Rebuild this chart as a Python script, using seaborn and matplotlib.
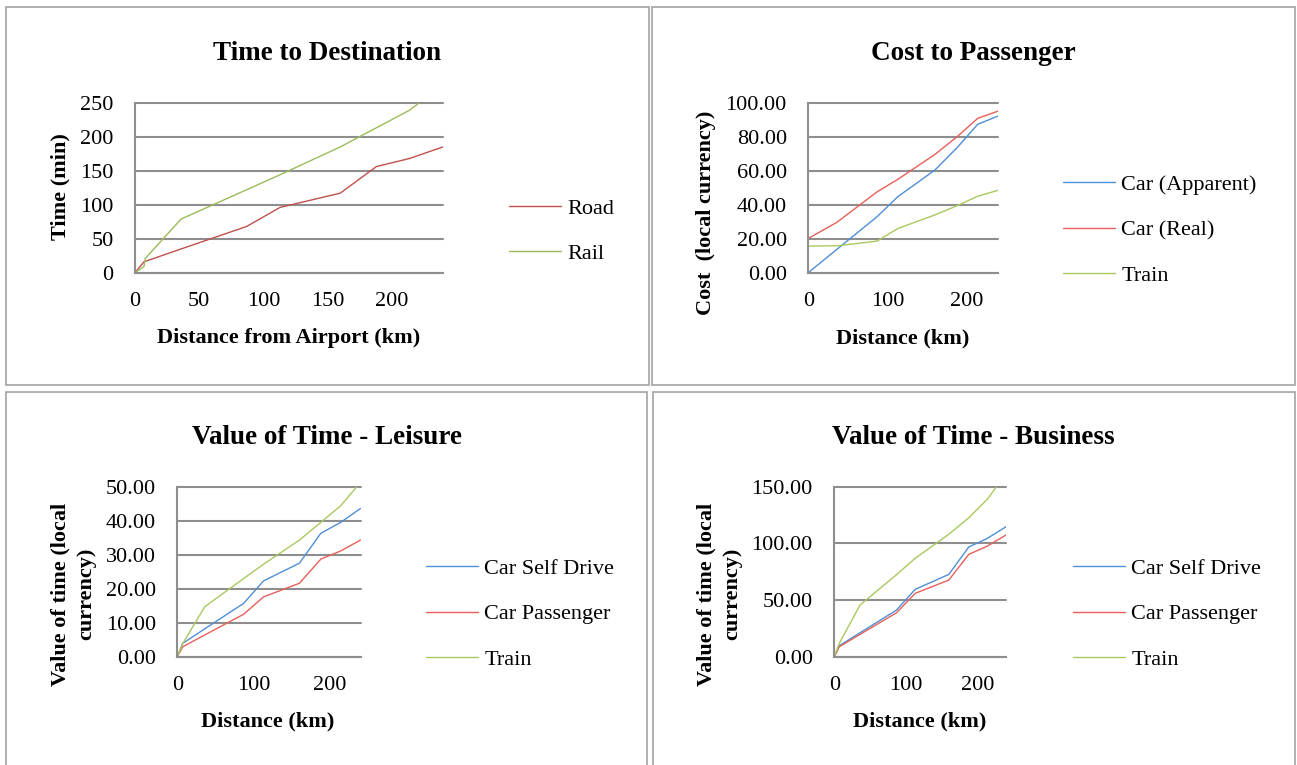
import numpy as np
import matplotlib
matplotlib.use("Agg")
import matplotlib.pyplot as plt
import seaborn as sns
from matplotlib.patches import Rectangle
from matplotlib.ticker import FixedLocator, FormatStrFormatter

# ---- data -----------------------------------------------------------------
distance = [0, 7, 36, 87, 113, 160, 188, 214, 240]           # km
rail_distance = [0, 7, 8, 36, 87, 113, 160, 188, 214, 240]   # km

road_time = [0, 16, 35, 68, 96, 117, 156, 168, 185]           # min
rail_time = [0, 9, 21, 79, 122, 144, 185, 213, 239, 277]     # min

cost_car_apparent = [0.0, 2.7, 13.7, 33.0, 44.7, 60.4, 73.6, 87.3, 92.2]
cost_car_real = [20.2, 22.0, 29.6, 47.6, 54.9, 69.6, 80.0, 90.8, 95.1]
cost_train = [15.7, 15.7, 15.8, 18.6, 26.0, 34.0, 39.4, 45.0, 48.5]

leisure_self_drive = [0.0, 3.9, 8.2, 15.7, 22.3, 27.5, 36.3, 39.5, 43.6]
leisure_passenger = [0.0, 2.9, 6.4, 12.5, 17.6, 21.6, 28.7, 31.1, 34.3]
leisure_train = [0.0, 3.8, 14.7, 23.0, 27.2, 34.3, 39.5, 44.4, 51.3]

business_self_drive = [0.0, 9.7, 21.1, 41.2, 59.4, 72.6, 96.8, 104.4, 114.7]
business_passenger = [0.0, 8.8, 19.7, 38.8, 55.9, 67.6, 90.3, 97.6, 107.4]
business_train = [0.0, 11.8, 45.6, 72.4, 86.8, 108.0, 122.6, 139.0, 161.5]

# ---- style ------------------------------------------------------------------
W, H = 1297, 765
sns.set_theme(style="white")
plt.rcParams["font.family"] = ["Liberation Serif", "DejaVu Serif"]
plt.rcParams["text.color"] = "black"
plt.rcParams["axes.labelcolor"] = "black"
plt.rcParams["xtick.color"] = "black"
plt.rcParams["ytick.color"] = "black"

GRID = "#8e8e8e"
BORDER = "#a3a3a3"
ROAD_RED, RAIL_GREEN = "#c0504d", "#9bbb59"
BLUE, RED, GREEN = "#4f8fd6", "#e6605a", "#a9c95f"
TICK_FS, LABEL_FS, TITLE_FS, LEG_FS = 16, 16, 19.5, 16

fig = plt.figure(figsize=(W / 100, H / 100), dpi=100)
fig.patch.set_facecolor("white")

# panel frames
for l, t, r, b in [(6, 7, 649, 385), (652, 7, 1295, 385),
                   (6, 392, 647, 775), (653, 392, 1295, 775)]:
    fig.add_artist(Rectangle((l / W, 1 - b / H), (r - l) / W, (b - t) / H,
                             transform=fig.transFigure, fill=False,
                             edgecolor=BORDER, lw=1.2))


def make_axes(l, r, t, b):
    return fig.add_axes([l / W, 1 - b / H, (r - l) / W, (b - t) / H])


def to_axes(ax, x, y):
    """pixel position on the figure -> axes fraction"""
    bb = ax.get_position()
    return ((x / W - bb.x0) / bb.width, ((1 - y / H) - bb.y0) / bb.height)


def style_axes(ax, ymax, ystep, fmt, xticks):
    ax.set_xlim(0, 240)
    ax.set_ylim(0, ymax)
    ax.xaxis.set_major_locator(FixedLocator(xticks))
    ax.yaxis.set_major_locator(FixedLocator(np.arange(0, ymax + ystep / 2, ystep)))
    ax.yaxis.set_major_formatter(FormatStrFormatter(fmt))
    ax.grid(axis="y", color=GRID, lw=1.5)
    ax.grid(axis="x", visible=False)
    for g in ax.yaxis.get_gridlines():
        g.set_clip_on(False)
    for s in ("top", "right"):
        ax.spines[s].set_visible(False)
    for s in ("left", "bottom"):
        ax.spines[s].set_color(GRID)
        ax.spines[s].set_linewidth(1.5)
    ax.tick_params(axis="both", length=0, labelsize=TICK_FS, colors="black")
    ax.tick_params(axis="y", pad=15.5)
    ax.tick_params(axis="x", pad=14)
    ax.set_facecolor("white")


def labels(ax, title, title_xy, xlabel, xlabel_xy, ylabel, ylabel_xy):
    tx, ty = to_axes(ax, *title_xy)
    ax.set_title(title, x=tx, y=ty, va="center", ha="center", pad=0,
                 fontsize=TITLE_FS, fontweight="bold", color="black")
    ax.set_xlabel(xlabel, fontsize=LABEL_FS, fontweight="bold")
    ax.xaxis.label.set_va("center")
    ax.xaxis.set_label_coords(*to_axes(ax, *xlabel_xy))
    ax.set_ylabel(ylabel, fontsize=LABEL_FS, fontweight="bold",
                  linespacing=1.4)
    ax.yaxis.label.set_va("center")
    ax.yaxis.label.set_ha("center")
    ax.yaxis.set_label_coords(*to_axes(ax, *ylabel_xy))


def legend(ax, left, cy):
    ax.legend(loc="center left", bbox_to_anchor=(left / W, 1 - cy / H),
              bbox_transform=fig.transFigure, frameon=False, fontsize=LEG_FS,
              borderpad=0, borderaxespad=0, handlelength=2.35,
              handletextpad=0.28, labelspacing=1.12)


def line(ax, x, y, color, label):
    sns.lineplot(x=x, y=y, ax=ax, color=color, lw=1.0, label=label,
                 estimator=None, sort=False)


# ---- Time to Destination ---------------------------------------------------
ax1 = make_axes(135, 443, 102.7, 272.7)
line(ax1, distance, road_time, ROAD_RED, "Road")
line(ax1, rail_distance, rail_time, RAIL_GREEN, "Rail")
style_axes(ax1, 250, 50, "%d", [0, 50, 100, 150, 200])
labels(ax1, "Time to Destination", (327, 53),
       "Distance from Airport (km)", (289, 338), "Time (min)", (60, 187))
legend(ax1, 509, 231)

# ---- Cost to Passenger -----------------------------------------------------
ax2 = make_axes(808.3, 998.3, 102.7, 272.7)
line(ax2, distance, cost_car_apparent, BLUE, "Car (Apparent)")
line(ax2, distance, cost_car_real, RED, "Car (Real)")
line(ax2, distance, cost_train, GREEN, "Train")
style_axes(ax2, 100, 20, "%.2f", [0, 100, 200])
labels(ax2, "Cost to Passenger", (973, 53),
       "Distance (km)", (903, 338), "Cost  (local currency)", (706, 213))
legend(ax2, 1063, 230)

# ---- Value of Time - Leisure -----------------------------------------------
ax3 = make_axes(177.3, 360.5, 486.7, 656.7)
line(ax3, distance, leisure_self_drive, BLUE, "Car Self Drive")
line(ax3, distance, leisure_passenger, RED, "Car Passenger")
line(ax3, distance, leisure_train, GREEN, "Train")
style_axes(ax3, 50, 10, "%.2f", [0, 100, 200])
labels(ax3, "Value of Time - Leisure", (327, 438),
       "Distance (km)", (268, 721), "Value of time (local\ncurrency)", (73, 594))
legend(ax3, 426, 614)

# ---- Value of Time - Business ----------------------------------------------
ax4 = make_axes(834.3, 1006, 486.7, 656.7)
line(ax4, distance, business_self_drive, BLUE, "Car Self Drive")
line(ax4, distance, business_passenger, RED, "Car Passenger")
line(ax4, distance, business_train, GREEN, "Train")
style_axes(ax4, 150, 50, "%.2f", [0, 100, 200])
labels(ax4, "Value of Time - Business", (973, 438),
       "Distance (km)", (920, 721), "Value of time (local\ncurrency)", (719, 594))
legend(ax4, 1073, 614)

fig.savefig("out.png", dpi=100, facecolor="white")
